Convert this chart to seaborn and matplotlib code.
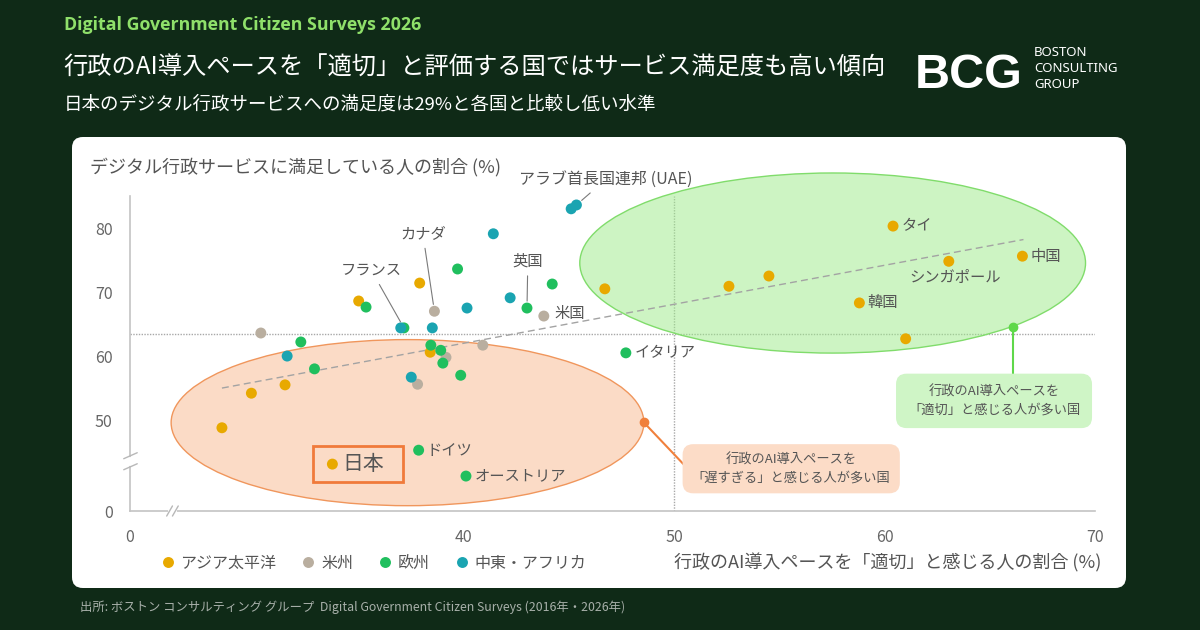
import numpy as np
import pandas as pd
import matplotlib.pyplot as plt
import seaborn as sns
from matplotlib.patches import Ellipse, FancyBboxPatch, Rectangle

# --- values (x: AI pace "appropriate" %, y: satisfaction %) ---
regions = ['アジア太平洋', '米州', '欧州', '中東・アフリカ']

apac_x = [28.5, 29.9, 31.5, 35.0, 37.9, 38.4, 33.75, 46.7, 52.6, 54.5, 58.8, 61.0, 63.05, 60.4, 66.55]
apac_y = [48.8, 54.2, 55.5, 68.6, 71.4, 60.6, 29.0, 70.5, 70.9, 72.5, 68.3, 62.7, 74.8, 80.3, 75.6]
apac_names = ['', '', '', '', '', '', '日本', '', '', '', '韓国', '', 'シンガポール', 'タイ', '中国']

amer_x = [30.35, 38.6, 39.15, 37.8, 40.9, 43.8]
amer_y = [63.6, 67.0, 59.8, 55.6, 61.7, 66.25]
amer_names = ['', 'カナダ', '', '', '', '米国']

eu_x = [32.25, 32.9, 35.35, 37.15, 38.43, 38.9, 39.0, 39.7, 39.85, 43.0, 44.2, 47.7, 37.85, 40.1]
eu_y = [62.2, 58.0, 67.65, 64.4, 61.7, 60.9, 58.9, 73.6, 57.0, 67.5, 71.25, 60.5, 37.6, 21.6]
eu_names = ['', '', '', 'フランス', '', '', '', '', '', '英国', '', 'イタリア', 'ドイツ', 'オーストリア']

mea_x = [31.6, 37.0, 38.5, 37.5, 40.15, 41.4, 42.2, 45.1, 45.35]
mea_y = [60.0, 64.4, 64.4, 56.7, 67.5, 79.1, 69.1, 83.0, 83.6]
mea_names = ['', '', '', '', '', '', '', '', 'アラブ首長国連邦 (UAE)']

trend_x = [28.5, 66.6]
trend_y = [55.0, 78.2]
avg_satisfaction = 63.4
pace_split = 50

x_ticks = [0, 40, 50, 60, 70]
y_ticks = [0, 50, 60, 70, 80]

rows = []
for reg, xs, ys, ns in zip(regions, [apac_x, amer_x, eu_x, mea_x], [apac_y, amer_y, eu_y, mea_y],
                           [apac_names, amer_names, eu_names, mea_names]):
    for x, y, n in zip(xs, ys, ns):
        rows.append({'region': reg, 'x': x, 'y': y, 'name': n})
df = pd.DataFrame(rows)

# --- colours ---
BG = '#0f2a17'
palette = {'アジア太平洋': '#e8a900', '米州': '#b9ae9f', '欧州': '#20bf5e', '中東・アフリカ': '#1aa4b1'}
TXT = '#555555'

sns.set_style('white')
plt.rcParams['font.family'] = ['Noto Sans CJK JP', 'DejaVu Sans']

fig = plt.figure(figsize=(12, 6.3), dpi=100, facecolor=BG)
W, H = 1200, 630

def fxy(px, py):
    return px / W, 1 - py / H

# white panel
panel = FancyBboxPatch((72 / W, 1 - 588 / H), 1054 / W, 451 / H, transform=fig.transFigure,
                       boxstyle='round,pad=0,rounding_size=0.009', mutation_aspect=W / H,
                       fc='white', ec='none', zorder=-5)
fig.patches.append(panel)

# header
fig.text(*fxy(64, 25), 'Digital Government Citizen Surveys 2026', color='#8fe06a', fontsize=12.8,
         fontweight='bold', family=['Open Sans', 'DejaVu Sans'], va='center')
fig.text(*fxy(63, 68), '行政のAI導入ペースを「適切」と評価する国ではサービス満足度も高い傾向',
         color='white', fontsize=17.5, va='center')
fig.text(*fxy(64, 105), '日本のデジタル行政サービスへの満足度は29%と各国と比較し低い水準',
         color='white', fontsize=13.3, va='center')

# logo
fig.text(*fxy(915, 88), 'BCG', color='white', fontsize=35, fontweight='bold',
         family=['Liberation Sans', 'DejaVu Sans'], va='baseline')
for i, word in enumerate(['BOSTON', 'CONSULTING', 'GROUP']):
    fig.text(*fxy(1034, 52 + 16 * i), word, color='white', fontsize=9.5,
             family=['Noto Sans', 'DejaVu Sans'], va='center')

fig.text(*fxy(80, 607), '出所: ボストン コンサルティング グループ  Digital Government Citizen Surveys (2016年・2026年)',
         color='#a8b0aa', fontsize=8.9, va='center')

# --- axes with broken scales ---
ax = fig.add_axes([130 / W, 119 / H, 965 / W, 315 / H])
ax.patch.set_alpha(0)

sns.scatterplot(data=df, x='x', y='y', hue='region', hue_order=regions, palette=palette,
                s=62, linewidth=0, zorder=3, ax=ax)

X_ZERO, X_BREAK = 24.13, 27.5
Y_ZERO, Y_BREAK = 35.8, 47.9

def fwd_x(v):
    v = np.asarray(v, dtype=float)
    return np.where(v >= X_BREAK, v, X_ZERO + v * (X_BREAK - X_ZERO) / X_BREAK)

def inv_x(v):
    v = np.asarray(v, dtype=float)
    return np.where(v >= X_BREAK, v, (v - X_ZERO) * X_BREAK / (X_BREAK - X_ZERO))

def fwd_y(v):
    v = np.asarray(v, dtype=float)
    return np.where(v >= Y_BREAK, v, Y_ZERO + v * (Y_BREAK - Y_ZERO) / Y_BREAK)

def inv_y(v):
    v = np.asarray(v, dtype=float)
    return np.where(v >= Y_BREAK, v, (v - Y_ZERO) * Y_BREAK / (Y_BREAK - Y_ZERO))

ax.set_xscale('function', functions=(fwd_x, inv_x))
ax.set_yscale('function', functions=(fwd_y, inv_y))
ax.set_xlim(0, 70)
ax.set_ylim(0, 85)
ax.set_xticks(x_ticks)
ax.set_yticks(y_ticks)
ax.set_xticklabels([str(t) for t in x_ticks])
ax.set_yticklabels([str(t) for t in y_ticks])
ax.minorticks_off()
ax.set_xlabel('')
ax.set_ylabel('')

sns.despine(ax=ax)
for side in ['left', 'bottom']:
    ax.spines[side].set_color('#c4c4c4')
    ax.spines[side].set_linewidth(1.2)
ax.tick_params(axis='both', colors='#c4c4c4', labelcolor='#666666', labelsize=11.5, width=1.2)
ax.tick_params(axis='y', length=4.5, pad=8)
ax.tick_params(axis='x', length=5, pad=8)

# transform in scaled (linear display) space
lin = ax.transLimits + ax.transAxes

# reference lines and trend
ax.axhline(avg_satisfaction, color='#a8a8a8', lw=1, ls=(0, (1, 1)), zorder=1)
ax.axvline(pace_split, color='#a8a8a8', lw=1, ls=(0, (1, 1)), zorder=1)
ax.plot(trend_x, trend_y, color='#a3a3a3', lw=1, ls=(0, (5, 3)), zorder=2.5)

# ellipses
ax.add_patch(Ellipse((57.53, 74.53), 24.04, 28.13, transform=lin, fc='#9deb89', alpha=0.5,
                     ec='none', zorder=2, clip_on=False))
ax.add_patch(Ellipse((57.53, 74.53), 24.04, 28.13, transform=lin, fc='none', ec='#80dc6b',
                     lw=1, zorder=2, clip_on=False))
ax.add_patch(Ellipse((37.32, 49.6), 22.47, 25.94, transform=lin, fc='#f9b98e', alpha=0.5,
                     ec='none', zorder=2, clip_on=False))
ax.add_patch(Ellipse((37.32, 49.6), 22.47, 25.94, transform=lin, fc='none', ec='#f0965c',
                     lw=1, zorder=2, clip_on=False))

# callouts
ax.plot([48.55, 50.5], [49.65, 42.9], transform=lin, color='#f0803c', lw=1.5, clip_on=False, zorder=2.6)
ax.plot([48.55], [49.65], transform=lin, marker='o', ms=6, color='#f0803c', clip_on=False, zorder=2.6)
ax.text(55.56, 42.4, '行政のAI導入ペースを\n「遅すぎる」と感じる人が多い国', transform=lin,
        ha='center', va='center', fontsize=9.5, color=TXT, linespacing=1.45, zorder=4,
        bbox=dict(boxstyle='round,pad=0.7,rounding_size=0.8', fc='#fcdcc7', ec='none'))
ax.plot([66.08, 66.08], [64.5, 57.2], transform=lin, color='#5fd84a', lw=1.5, clip_on=False, zorder=2.6)
ax.plot([66.08], [64.5], transform=lin, marker='o', ms=6, color='#5fd84a', clip_on=False, zorder=2.6)
ax.text(65.2, 53.0, '行政のAI導入ペースを\n「適切」と感じる人が多い国', transform=lin,
        ha='center', va='center', fontsize=9.5, color=TXT, linespacing=1.45, zorder=4,
        bbox=dict(boxstyle='round,pad=0.9,rounding_size=0.8', fc='#cff5c6', ec='none'))

# Japan highlight box
ax.add_patch(Rectangle((32.83, 40.31), 4.27, 5.63, transform=lin, fill=False, ec='#f07a3a',
                       lw=2, zorder=4, clip_on=False))

# country labels
leader = {'カナダ': (38.05, 79.1), 'フランス': (35.6, 73.4), '英国': (43.04, 74.8),
          'アラブ首長国連邦 (UAE)': (46.75, 87.6)}
for _, r in df[df['name'] != ''].iterrows():
    n = r['name']
    if n in leader:
        ax.annotate(n, xy=(r['x'], r['y']), xytext=leader[n], ha='center', va='center',
                    fontsize=11.5 if 'UAE' in n else 11, color=TXT, annotation_clip=False, zorder=4,
                    arrowprops=dict(arrowstyle='-', color='#7a7a7a', lw=0.8, shrinkA=2, shrinkB=5))
    elif n == 'シンガポール':
        ax.annotate(n, xy=(r['x'], r['y']), xytext=(4.5, -11.5), textcoords='offset points',
                    ha='center', va='center', fontsize=11, color=TXT, zorder=4)
    elif n == '日本':
        ax.annotate(n, xy=(r['x'], r['y']), xytext=(7, 0), textcoords='offset points',
                    ha='left', va='center', fontsize=15, color=TXT, zorder=4)
    elif n == '米国':
        ax.annotate(n, xy=(r['x'], r['y']), xytext=(8, 2), textcoords='offset points',
                    ha='left', va='center', fontsize=11, color=TXT, zorder=4)
    else:
        ax.annotate(n, xy=(r['x'], r['y']), xytext=(6, 0), textcoords='offset points',
                    ha='left', va='center', fontsize=11, color=TXT, zorder=4)

# axis break marks
brk = dict(transform=ax.transAxes, color='#b8b8b8', lw=1, clip_on=False, zorder=5)
ax.plot([0, 0], [0.150, 0.166], transform=ax.transAxes, color='white', lw=3, clip_on=False, zorder=4.9)
ax.plot([-0.0065, 0.0075], [0.166, 0.185], **brk)
ax.plot([-0.0065, 0.0075], [0.131, 0.150], **brk)
ax.plot([0.041, 0.047], [0, 0], transform=ax.transAxes, color='white', lw=3, clip_on=False, zorder=4.9)
ax.plot([0.038, 0.044], [-0.016, 0.016], **brk)
ax.plot([0.044, 0.050], [-0.016, 0.016], **brk)

# legend and axis titles
sns.move_legend(ax, 'center left', bbox_to_anchor=(0.029, -0.166), ncol=4, frameon=False, title=None,
                fontsize=11.5, labelcolor=TXT, handletextpad=0.2, columnspacing=1.4,
                borderpad=0, borderaxespad=0, handlelength=1.2)
fig.text(*fxy(90, 167), 'デジタル行政サービスに満足している人の割合 (%)', color=TXT, fontsize=13, va='center')
fig.text(*fxy(1101, 563), '行政のAI導入ペースを「適切」と感じる人の割合 (%)', color=TXT, fontsize=13,
         va='center', ha='right')

fig.savefig('out.png', dpi=100, facecolor=BG)
